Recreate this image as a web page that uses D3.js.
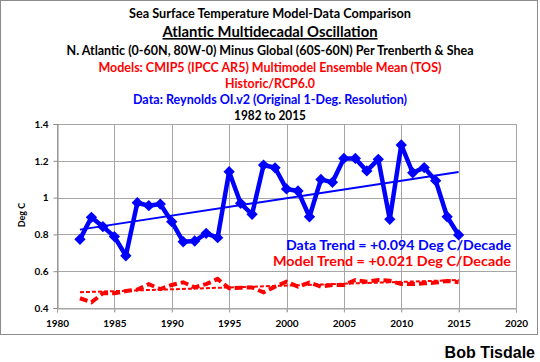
<!DOCTYPE html>
<html>
<head>
<meta charset="utf-8">
<title>AMO Model-Data Comparison</title>
<script src="https://cdn.jsdelivr.net/npm/d3@7"></script>
<style>
	body { margin: 0; background: #fff; }
	svg { display: block; font-family: Lato, "Open Sans", sans-serif; font-weight: bold; }
</style>
</head>
<body>
<div id="chart"></div>
<script>
	// yearly values
	var years = d3.range(1982, 2016);
	var dataValues = [0.773, 0.893, 0.842, 0.788, 0.684, 0.972, 0.956, 0.965, 0.869, 0.760,
		0.764, 0.806, 0.782, 1.141, 0.969, 0.909, 1.177, 1.162, 1.047, 1.036,
		0.896, 1.099, 1.083, 1.213, 1.213, 1.145, 1.208, 0.882, 1.286, 1.135,
		1.163, 1.092, 0.896, 0.797];
	var modelValues = [0.453, 0.431, 0.480, 0.480, 0.492, 0.500, 0.529, 0.503, 0.525, 0.540,
		0.512, 0.530, 0.558, 0.507, 0.510, 0.512, 0.485, 0.516, 0.543, 0.516,
		0.538, 0.516, 0.525, 0.525, 0.552, 0.543, 0.552, 0.548, 0.530, 0.530,
		0.534, 0.538, 0.547, 0.540];
	var xTicks = [1980, 1985, 1990, 1995, 2000, 2005, 2010, 2015, 2020];
	var yTicks = [0.4, 0.6, 0.8, 1.0, 1.2, 1.4];

	var titleLines = [
		{ text: "Sea Surface Temperature Model-Data Comparison", color: "#000", size: 13, y: 18, w: 282 },
		{ text: "Atlantic Multidecadal Oscillation", color: "#000", size: 16, y: 37, w: 215, underline: true },
		{ text: "N. Atlantic (0-60N, 80W-0) Minus Global (60S-60N) Per Trenberth & Shea", color: "#000", size: 13, y: 55, w: 407 },
		{ text: "Models: CMIP5 (IPCC AR5) Multimodel Ensemble Mean (TOS)", color: "#ff0000", size: 13, y: 72, w: 343 },
		{ text: "Historic/RCP6.0", color: "#ff0000", size: 13, y: 88, w: 90 },
		{ text: "Data: Reynolds OI.v2 (Original 1-Deg. Resolution)", color: "#0000ff", size: 13, y: 104, w: 274 },
		{ text: "1982 to 2015", color: "#000", size: 13, y: 120, w: 72 }
	];

	var width = 540, height = 362;
	var svg = d3.select("#chart").append("svg")
		.attr("width", width)
		.attr("height", height);

	// chart frame
	svg.append("rect")
		.attr("x", 0.5).attr("y", 0.5)
		.attr("width", 537).attr("height", 334)
		.attr("fill", "#fff")
		.attr("stroke", "#8c8c8c");

	var x = d3.scaleLinear().domain([1980, 2020]).range([57, 516]);
	var y = d3.scaleLinear().domain([0.4, 1.4]).range([308, 124]);

	// titles
	svg.selectAll(".title")
		.data(titleLines)
		.enter()
			.append("text")
			.attr("class", "title")
			.attr("x", 270)
			.attr("y", function(d) { return d.y; })
			.attr("text-anchor", "middle")
			.attr("font-size", function(d) { return d.size; })
			.attr("fill", function(d) { return d.color; })
			.attr("textLength", function(d) { return d.w; })
			.attr("lengthAdjust", "spacingAndGlyphs")
			.attr("text-decoration", function(d) { return d.underline ? "underline" : null; })
			.text(function(d) { return d.text; });

	// grid
	svg.append("g").selectAll("line")
		.data(yTicks)
		.enter()
			.append("line")
			.attr("x1", x(1980)).attr("x2", x(2020))
			.attr("y1", function(d) { return Math.round(y(d)) + 0.5; })
			.attr("y2", function(d) { return Math.round(y(d)) + 0.5; })
			.attr("stroke", "#a6a6a6");

	svg.append("g").selectAll("line")
		.data(xTicks)
		.enter()
			.append("line")
			.attr("x1", function(d) { return Math.round(x(d)) + 0.5; })
			.attr("x2", function(d) { return Math.round(x(d)) + 0.5; })
			.attr("y1", y(1.4)).attr("y2", y(0.4) + 4)
			.attr("stroke", "#a6a6a6");

	// y axis
	var yAxis = svg.append("g")
		.attr("transform", "translate(" + (Math.round(x(1980)) + 0.5) + ",0)")
		.call(d3.axisLeft(y).tickValues(yTicks).tickSize(4).tickPadding(5)
			.tickFormat(function(d) { return d === 1 ? "1" : d3.format(".1f")(d); }));
	yAxis.select(".domain").attr("stroke", "#8c8c8c");
	yAxis.selectAll(".tick line").attr("stroke", "#8c8c8c");
	yAxis.selectAll("text")
		.attr("font-family", "Lato, sans-serif")
		.attr("font-weight", "bold")
		.attr("font-size", 10)
		.attr("fill", "#000");

	var xAxis = svg.append("g")
		.attr("transform", "translate(0," + (Math.round(y(0.4)) + 0.5) + ")")
		.call(d3.axisBottom(x).tickValues(xTicks).tickSize(4).tickPadding(7).tickFormat(d3.format("d")));
	xAxis.select(".domain").attr("stroke", "#a6a6a6");
	xAxis.selectAll(".tick line").attr("stroke", "#a6a6a6");
	xAxis.selectAll("text")
		.attr("font-family", "Lato, sans-serif")
		.attr("font-weight", "bold")
		.attr("font-size", 10)
		.attr("fill", "#000");

	svg.append("text")
		.attr("transform", "translate(25,215) rotate(-90)")
		.attr("text-anchor", "middle")
		.attr("font-size", 9)
		.text("Deg C");

	// least squares trends
	function trend(vals) {
		var mx = d3.mean(years), my = d3.mean(vals);
		var sxy = d3.sum(years, function(t, i) { return (t - mx) * (vals[i] - my); });
		var sxx = d3.sum(years, function(t) { return (t - mx) * (t - mx); });
		var b = sxy / sxx;
		return [years[0], years[years.length - 1]].map(function(t) { return [t, my + b * (t - mx)]; });
	}

	var line = d3.line()
		.x(function(d) { return x(d[0]); })
		.y(function(d) { return y(d[1]); });

	var dataPts = years.map(function(t, i) { return [t, dataValues[i]]; });
	var modelPts = years.map(function(t, i) { return [t, modelValues[i]]; });

	// model series
	svg.append("path")
		.attr("d", line(trend(modelValues)))
		.attr("fill", "none")
		.attr("stroke", "#ff0000")
		.attr("stroke-width", 2)
		.attr("stroke-dasharray", "4,2");

	svg.append("path")
		.attr("d", line(modelPts))
		.attr("fill", "none")
		.attr("stroke", "#ff0000")
		.attr("stroke-width", 4)
		.attr("stroke-dasharray", "8,4");

	// data series
	svg.append("path")
		.attr("d", line(trend(dataValues)))
		.attr("fill", "none")
		.attr("stroke", "#0000ff")
		.attr("stroke-width", 2);

	svg.append("path")
		.attr("d", line(dataPts))
		.attr("fill", "none")
		.attr("stroke", "#0000ff")
		.attr("stroke-width", 4.5)
		.attr("stroke-linejoin", "round");

	svg.append("g").selectAll("path")
		.data(dataPts)
		.enter()
			.append("path")
			.attr("d", d3.symbol(d3.symbolSquare, 64))
			.attr("transform", function(d) { return "translate(" + x(d[0]) + "," + y(d[1]) + ") rotate(45)"; })
			.attr("fill", "#0000ff");

	// trend labels
	svg.append("text")
		.attr("x", 511).attr("y", 250)
		.attr("text-anchor", "end")
		.attr("font-size", 13)
		.attr("fill", "#0000ff")
		.attr("textLength", 225)
		.attr("lengthAdjust", "spacingAndGlyphs")
		.text("Data Trend = +0.094 Deg C/Decade");

	svg.append("text")
		.attr("x", 511).attr("y", 266)
		.attr("text-anchor", "end")
		.attr("font-size", 13)
		.attr("fill", "#ff0000")
		.attr("textLength", 238)
		.attr("lengthAdjust", "spacingAndGlyphs")
		.text("Model Trend = +0.021 Deg C/Decade");

	svg.append("text")
		.attr("x", 535).attr("y", 358)
		.attr("text-anchor", "end")
		.attr("font-family", "Liberation Sans, Arial, sans-serif")
		.attr("font-size", 16)
		.text("Bob Tisdale");
</script>
</body>
</html>
